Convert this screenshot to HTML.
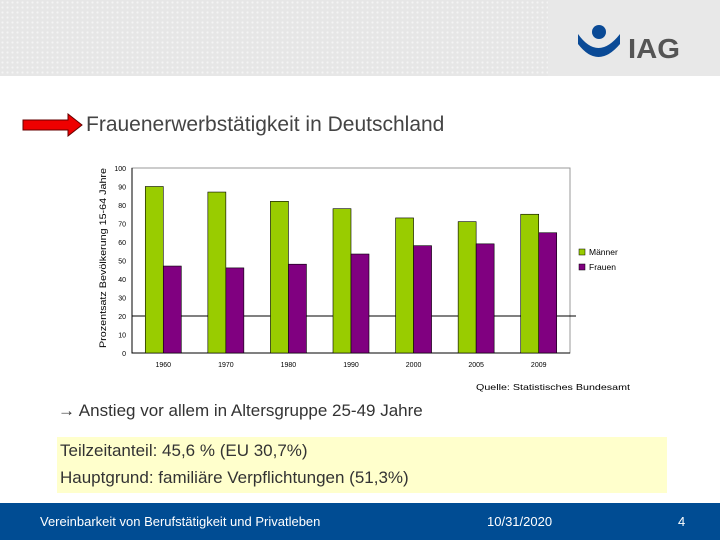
<!DOCTYPE html>
<html><head><meta charset="utf-8"><style>
body{margin:0;width:720px;height:540px;position:relative;overflow:hidden;background:#fff;font-family:"Liberation Sans",sans-serif}
.abs{position:absolute}
</style></head><body>
<div class="abs" style="left:0;top:0;width:720px;height:76px;background-color:#e6e6e6;background-image:radial-gradient(#f4f4f4 1px,transparent 1.2px);background-size:5px 5px"></div>
<div class="abs" style="left:548px;top:0;width:172px;height:76px;background:#e8e8e8"></div>
<svg class="abs" style="left:576px;top:24px" width="110" height="40">
<path d="M2 10 Q22 38 44 10 L44 20 Q22 46 2 20Z" fill="#0a4a96"/>
<circle cx="23" cy="8" r="7" fill="#0a4a96"/>
<text x="52" y="34" font-size="28" font-weight="bold" fill="#555" textLength="52" lengthAdjust="spacingAndGlyphs">IAG</text>
</svg>
<svg class="abs" style="left:22px;top:113px" width="62" height="24"><path d="M1 7 H46 V1 L60 12 L46 23 V17 H1Z" fill="#e00" stroke="#600" stroke-width="1"/></svg>
<div class="abs" style="left:86px;top:113px;font-size:21px;color:#444">Frauenerwerbstätigkeit in Deutschland</div>

<svg class="abs" id="chart" style="left:0;top:0" width="720" height="400"></svg>
<script>
const categories=["1960","1970","1980","1990","2000","2005","2009"];
const maenner=[90,87,82,78,73,71,75];
const frauen=[47,46,48,53.5,58,59,65];
const yTicks=[0,10,20,30,40,50,60,70,80,90,100];
const svg=document.getElementById('chart');
const NS='http://www.w3.org/2000/svg';
const L=132,R=570,T=168,B=353;
const y=v=>B-(v/100)*(B-T);
const bw=(R-L)/categories.length;
const x=i=>L+bw*i+bw/2;
function mk(t,a,txt){const e=document.createElementNS(NS,t);for(const k in a)e.setAttribute(k,a[k]);if(txt!==undefined)e.textContent=txt;svg.appendChild(e);return e;}
let e=mk('rect',{x:L,y:T,width:R-L,height:B-T,fill:'#fff',stroke:'#999','stroke-width':1});


e=mk('path',{d:`M${L} ${T} V${B} H${R}`,fill:'none',stroke:'#000','stroke-width':1});


e=mk('line',{x1:L,x2:R+6,y1:y(20),y2:y(20),stroke:'#000','stroke-width':1});


yTicks.forEach(t=>{
 e=mk('text',{x:L-6,y:y(t)+3,'font-size':7,'text-anchor':'end',fill:'#000'},t);
 
 
});
categories.forEach((c,i)=>{
 e=mk('rect',{x:x(i)-18,y:y(maenner[i]),width:18,height:B-y(maenner[i]),fill:'#99cc00',stroke:'#000','stroke-width':0.6});
 
 
 e=mk('rect',{x:x(i),y:y(frauen[i]),width:18,height:B-y(frauen[i]),fill:'#800080',stroke:'#000','stroke-width':0.6});
 
 
 e=mk('text',{x:x(i),y:B+14,'font-size':7,'text-anchor':'middle',fill:'#000'},c);
 
 
});
e=mk('text',{x:0,y:0,'font-size':9,'text-anchor':'middle',fill:'#000',textLength:180,lengthAdjust:'spacingAndGlyphs',transform:'translate(106,258) rotate(-90)'},'Prozentsatz Bevölkerung 15-64 Jahre');


[['Männer','#99cc00',254],['Frauen','#800080',269]].forEach(l=>{
 e=mk('rect',{x:579,y:l[2]-5,width:6,height:6,fill:l[1],stroke:'#000','stroke-width':0.5});
 
 
 e=mk('text',{x:589,y:l[2]+1,'font-size':8.5,fill:'#000'},l[0]);
 
 
});
e=mk('text',{x:476,y:390,'font-size':8.5,fill:'#000',textLength:154,lengthAdjust:'spacingAndGlyphs'},'Quelle: Statistisches Bundesamt');


</script>
<div class="abs" style="left:58px;top:401px;font-size:17px;color:#333">→ Anstieg vor allem in Altersgruppe 25-49 Jahre</div>
<div class="abs" style="left:57px;top:437px;width:610px;height:56px;background:#ffffcc;font-size:17px;color:#333;line-height:27px">
<div style="padding-left:3px">Teilzeitanteil: 45,6 % (EU 30,7%)</div>
<div style="padding-left:3px">Hauptgrund: familiäre Verpflichtungen (51,3%)</div>
</div>
<div class="abs" style="left:0;top:503px;width:720px;height:37px;background:#004c93;color:#fff;font-size:13px">
<span class="abs" style="left:40px;top:11px">Vereinbarkeit von Berufstätigkeit und Privatleben</span>
<span class="abs" style="left:487px;top:11px">10/31/2020</span>
<span class="abs" style="left:678px;top:11px">4</span>
</div>
</body></html>
